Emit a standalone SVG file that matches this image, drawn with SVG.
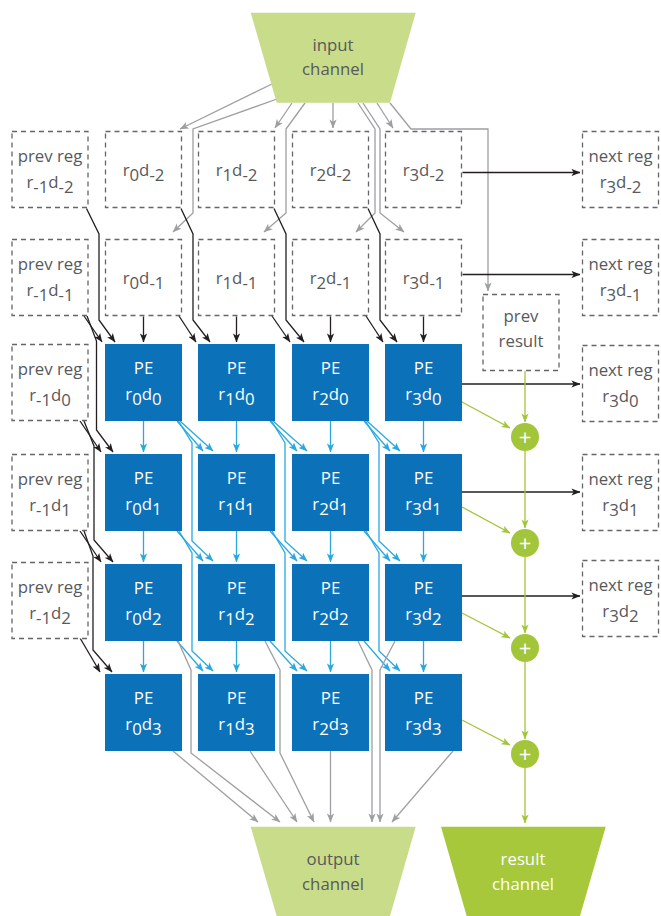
<svg xmlns="http://www.w3.org/2000/svg" width="661" height="916" viewBox="0 0 661 916">
<style>
.dash{fill:#fff;stroke:#666;stroke-width:1.3;stroke-dasharray:5 4}
.pe{fill:#0b71b8}
.t{font-family:"Open Sans","Liberation Sans",sans-serif;font-size:16.8px;fill:#58595b;text-anchor:middle}
.w{fill:#fff}
.k,.g,.b,.gr{fill:none;stroke-width:1.3}
.k{stroke:#231f20;marker-end:url(#ak)}
.g{stroke:#9d9fa2;marker-end:url(#ag)}
.b{stroke:#29a9e0;marker-end:url(#ab)}
.gr{stroke:#a3c53a;marker-end:url(#agr)}
.plus{font-family:"Open Sans","Liberation Sans",sans-serif;font-size:22px;fill:#fff;text-anchor:middle}
</style>
<defs>
<marker id="ak" viewBox="0 0 10 8" refX="9.5" refY="4" markerWidth="9" markerHeight="7.5" markerUnits="userSpaceOnUse" orient="auto"><path d="M0,0 L10,4 L0,8 L2.5,4 Z" fill="#231f20"/></marker>
<marker id="ag" viewBox="0 0 10 8" refX="9.5" refY="4" markerWidth="9" markerHeight="7.5" markerUnits="userSpaceOnUse" orient="auto"><path d="M0,0 L10,4 L0,8 L2.5,4 Z" fill="#9d9fa2"/></marker>
<marker id="ab" viewBox="0 0 10 8" refX="9.5" refY="4" markerWidth="9" markerHeight="7.5" markerUnits="userSpaceOnUse" orient="auto"><path d="M0,0 L10,4 L0,8 L2.5,4 Z" fill="#29a9e0"/></marker>
<marker id="agr" viewBox="0 0 10 8" refX="9.5" refY="4" markerWidth="9" markerHeight="7.5" markerUnits="userSpaceOnUse" orient="auto"><path d="M0,0 L10,4 L0,8 L2.5,4 Z" fill="#a3c53a"/></marker>
</defs>
<rect width="661" height="916" fill="#fff"/>

<g id="connectors">
<!-- input channel (gray) -->
<path class="g" d="M272,84 L180,129"/>
<path class="g" d="M277,99 L193,129 L193,213 L173,232"/>
<path class="g" d="M292,103 L275,128"/>
<path class="g" d="M305,103 L286,129 L286,213 L264,232"/>
<path class="g" d="M333,103 L333,128"/>
<path class="g" d="M358,103 L375,129 L375,213 L356,232"/>
<path class="g" d="M363,103 L380,129 L380,213 L404,232"/>
<path class="g" d="M377,103 L393,128"/>
<path class="g" d="M390,103 L411,129 L488,129 L488,291"/>
<!-- black: left column -->
<path class="k" d="M86.5,208.5 L99,234 L99,320 L115,342"/>
<path class="k" d="M84,316 L102,342"/>
<path class="k" d="M87,316 L96.5,341 L96.5,430 L113,452"/>
<path class="k" d="M80,421 L101,452"/>
<path class="k" d="M84,421 L94,446 L94,540 L113,562"/>
<path class="k" d="M80,531 L101,562"/>
<path class="k" d="M84,531 L93,556 L93,650 L112,672"/>
<path class="k" d="M80,638 L100,672"/>
<!-- black: register columns -->
<path class="k" d="M181,208.5 L193,234 L193,320 L210,342"/>
<path class="k" d="M179,316 L196,342"/>
<path class="k" d="M274,208.5 L286,234 L286,320 L304,342"/>
<path class="k" d="M272,316 L290,342"/>
<path class="k" d="M368,208.5 L380,234 L380,320 L397,342"/>
<path class="k" d="M366,316 L383,342"/>
<path class="k" d="M143.5,316.5 L143.5,342"/>
<path class="k" d="M236.5,316.5 L236.5,342"/>
<path class="k" d="M330.5,316.5 L330.5,342"/>
<path class="k" d="M423.5,316.5 L423.5,342"/>
<!-- black: to next reg -->
<path class="k" d="M462.5,172.5 L580,172.5"/>
<path class="k" d="M462.5,274.5 L580,274.5"/>
<path class="k" d="M462,384 L580,384"/>
<path class="k" d="M462,492 L580,492"/>
<path class="k" d="M462,596 L580,596"/>
<!-- blue verticals -->
<path class="b" d="M143.5,421 L143.5,452"/>
<path class="b" d="M143.5,531 L143.5,562"/>
<path class="b" d="M143.5,641 L143.5,672"/>
<path class="b" d="M236.5,421 L236.5,452"/>
<path class="b" d="M236.5,531 L236.5,562"/>
<path class="b" d="M236.5,641 L236.5,672"/>
<path class="b" d="M330.5,421 L330.5,452"/>
<path class="b" d="M330.5,531 L330.5,562"/>
<path class="b" d="M330.5,641 L330.5,672"/>
<path class="b" d="M423.5,421 L423.5,452"/>
<path class="b" d="M423.5,531 L423.5,562"/>
<path class="b" d="M423.5,641 L423.5,672"/>
<!-- blue diagonals col0 -> col1 -->
<path class="b" d="M177,421 L203,451"/>
<path class="b" d="M180,421 L213,451"/>
<path class="b" d="M178.5,421 L192,443 L192,541 L213,561"/>
<path class="b" d="M177,531 L203,561"/>
<path class="b" d="M179,531 L192,553 L192,651 L213,671"/>
<path class="b" d="M177,641 L203,671"/>
<!-- col1 -> col2 -->
<path class="b" d="M270,421 L297,451"/>
<path class="b" d="M273,421 L307,451"/>
<path class="b" d="M271.5,421 L285,443 L285,541 L307,561"/>
<path class="b" d="M270,531 L297,561"/>
<path class="b" d="M272,531 L285,553 L285,651 L307,671"/>
<path class="b" d="M270,641 L297,671"/>
<!-- col2 -> col3 -->
<path class="b" d="M364,421 L390,451"/>
<path class="b" d="M367,421 L400,451"/>
<path class="b" d="M365.5,421 L379,443 L379,541 L400,561"/>
<path class="b" d="M364,531 L390,561"/>
<path class="b" d="M366,531 L379,553 L379,651 L400,671"/>
<path class="b" d="M364,641 L390,671"/>
<!-- gray to output -->
<path class="g" d="M173,751 L258,822"/>
<path class="g" d="M178,641 L191,670 L191,753 L280,822"/>
<path class="g" d="M250,751 L297,822"/>
<path class="g" d="M265,641 L280,670 L280,753 L314,822"/>
<path class="g" d="M330.5,751 L330.5,822"/>
<path class="g" d="M358,641 L372,670 L372,822"/>
<path class="g" d="M395,641 L380,670 L380,822"/>
<path class="g" d="M453,751 L392,822"/>
<!-- green -->
<path class="gr" d="M525,371 L525,422"/>
<path class="gr" d="M525,451 L525,528"/>
<path class="gr" d="M525,557 L525,633"/>
<path class="gr" d="M525,662 L525,739"/>
<path class="gr" d="M525,768 L525,823"/>
<path class="gr" d="M462,402 L510,428"/>
<path class="gr" d="M462,507 L510,533"/>
<path class="gr" d="M462,613 L510,638"/>
<path class="gr" d="M462,720 L510,745"/>
</g>

<g id="input-channel"><path d="M250.7,12.7 L415.7,12.7 L390,102.7 L276.7,102.7 Z" fill="#c9dc89"/><text class="t" x="333" y="51">input</text><text class="t" x="333" y="75">channel</text></g>
<g id="output-channel"><path d="M250.7,826.7 L415.7,826.7 L390,916 L276.7,916 Z" fill="#c9dc89"/><text class="t" x="333" y="865">output</text><text class="t" x="333" y="890">channel</text></g>
<g id="result-channel"><path d="M441,826.7 L605.7,826.7 L580,916 L466.7,916 Z" fill="#a8c83b"/><text class="t w" x="523" y="865">result</text><text class="t w" x="523" y="890">channel</text></g>

<!-- prev reg column -->
<g id="prev-r-1d-2"><rect class="dash" x="12" y="131.5" width="76" height="76"/><text class="t" x="50" y="162">prev reg</text><text class="t" x="50" y="188">r<tspan dy="5">-1</tspan><tspan dy="-5">d</tspan><tspan dy="5">-2</tspan></text></g>
<g id="prev-r-1d-1"><rect class="dash" x="12" y="239.5" width="76" height="76"/><text class="t" x="50" y="270">prev reg</text><text class="t" x="50" y="296">r<tspan dy="5">-1</tspan><tspan dy="-5">d</tspan><tspan dy="5">-1</tspan></text></g>
<g id="prev-r-1d0"><rect class="dash" x="12" y="344.5" width="76" height="76"/><text class="t" x="50" y="375">prev reg</text><text class="t" x="50" y="401">r<tspan dy="5">-1</tspan><tspan dy="-5">d</tspan><tspan dy="5">0</tspan></text></g>
<g id="prev-r-1d1"><rect class="dash" x="12" y="454.5" width="76" height="76"/><text class="t" x="50" y="485">prev reg</text><text class="t" x="50" y="511">r<tspan dy="5">-1</tspan><tspan dy="-5">d</tspan><tspan dy="5">1</tspan></text></g>
<g id="prev-r-1d2"><rect class="dash" x="12" y="562.5" width="76" height="76"/><text class="t" x="50" y="593">prev reg</text><text class="t" x="50" y="619">r<tspan dy="5">-1</tspan><tspan dy="-5">d</tspan><tspan dy="5">2</tspan></text></g>

<!-- register rows -->
<g id="r0d-2"><rect class="dash" x="105.5" y="131.5" width="76" height="76"/><text class="t" x="143.5" y="176">r<tspan dy="5">0</tspan><tspan dy="-5">d</tspan><tspan dy="5">-2</tspan></text></g>
<g id="r1d-2"><rect class="dash" x="198.5" y="131.5" width="76" height="76"/><text class="t" x="236.5" y="176">r<tspan dy="5">1</tspan><tspan dy="-5">d</tspan><tspan dy="5">-2</tspan></text></g>
<g id="r2d-2"><rect class="dash" x="292.5" y="131.5" width="76" height="76"/><text class="t" x="330.5" y="176">r<tspan dy="5">2</tspan><tspan dy="-5">d</tspan><tspan dy="5">-2</tspan></text></g>
<g id="r3d-2"><rect class="dash" x="385.5" y="131.5" width="76" height="76"/><text class="t" x="423.5" y="176">r<tspan dy="5">3</tspan><tspan dy="-5">d</tspan><tspan dy="5">-2</tspan></text></g>
<g id="r0d-1"><rect class="dash" x="105.5" y="239.5" width="76" height="76"/><text class="t" x="143.5" y="284">r<tspan dy="5">0</tspan><tspan dy="-5">d</tspan><tspan dy="5">-1</tspan></text></g>
<g id="r1d-1"><rect class="dash" x="198.5" y="239.5" width="76" height="76"/><text class="t" x="236.5" y="284">r<tspan dy="5">1</tspan><tspan dy="-5">d</tspan><tspan dy="5">-1</tspan></text></g>
<g id="r2d-1"><rect class="dash" x="292.5" y="239.5" width="76" height="76"/><text class="t" x="330.5" y="284">r<tspan dy="5">2</tspan><tspan dy="-5">d</tspan><tspan dy="5">-1</tspan></text></g>
<g id="r3d-1"><rect class="dash" x="385.5" y="239.5" width="76" height="76"/><text class="t" x="423.5" y="284">r<tspan dy="5">3</tspan><tspan dy="-5">d</tspan><tspan dy="5">-1</tspan></text></g>

<!-- PEs -->
<g id="pe-r0d0"><rect class="pe" x="105" y="344" width="77" height="77"/><text class="t w" x="143.5" y="374">PE</text><text class="t w" x="143.5" y="400">r<tspan dy="5">0</tspan><tspan dy="-5">d</tspan><tspan dy="5">0</tspan></text></g>
<g id="pe-r1d0"><rect class="pe" x="198" y="344" width="77" height="77"/><text class="t w" x="236.5" y="374">PE</text><text class="t w" x="236.5" y="400">r<tspan dy="5">1</tspan><tspan dy="-5">d</tspan><tspan dy="5">0</tspan></text></g>
<g id="pe-r2d0"><rect class="pe" x="292" y="344" width="77" height="77"/><text class="t w" x="330.5" y="374">PE</text><text class="t w" x="330.5" y="400">r<tspan dy="5">2</tspan><tspan dy="-5">d</tspan><tspan dy="5">0</tspan></text></g>
<g id="pe-r3d0"><rect class="pe" x="385" y="344" width="77" height="77"/><text class="t w" x="423.5" y="374">PE</text><text class="t w" x="423.5" y="400">r<tspan dy="5">3</tspan><tspan dy="-5">d</tspan><tspan dy="5">0</tspan></text></g>
<g id="pe-r0d1"><rect class="pe" x="105" y="454" width="77" height="77"/><text class="t w" x="143.5" y="484">PE</text><text class="t w" x="143.5" y="510">r<tspan dy="5">0</tspan><tspan dy="-5">d</tspan><tspan dy="5">1</tspan></text></g>
<g id="pe-r1d1"><rect class="pe" x="198" y="454" width="77" height="77"/><text class="t w" x="236.5" y="484">PE</text><text class="t w" x="236.5" y="510">r<tspan dy="5">1</tspan><tspan dy="-5">d</tspan><tspan dy="5">1</tspan></text></g>
<g id="pe-r2d1"><rect class="pe" x="292" y="454" width="77" height="77"/><text class="t w" x="330.5" y="484">PE</text><text class="t w" x="330.5" y="510">r<tspan dy="5">2</tspan><tspan dy="-5">d</tspan><tspan dy="5">1</tspan></text></g>
<g id="pe-r3d1"><rect class="pe" x="385" y="454" width="77" height="77"/><text class="t w" x="423.5" y="484">PE</text><text class="t w" x="423.5" y="510">r<tspan dy="5">3</tspan><tspan dy="-5">d</tspan><tspan dy="5">1</tspan></text></g>
<g id="pe-r0d2"><rect class="pe" x="105" y="564" width="77" height="77"/><text class="t w" x="143.5" y="594">PE</text><text class="t w" x="143.5" y="620">r<tspan dy="5">0</tspan><tspan dy="-5">d</tspan><tspan dy="5">2</tspan></text></g>
<g id="pe-r1d2"><rect class="pe" x="198" y="564" width="77" height="77"/><text class="t w" x="236.5" y="594">PE</text><text class="t w" x="236.5" y="620">r<tspan dy="5">1</tspan><tspan dy="-5">d</tspan><tspan dy="5">2</tspan></text></g>
<g id="pe-r2d2"><rect class="pe" x="292" y="564" width="77" height="77"/><text class="t w" x="330.5" y="594">PE</text><text class="t w" x="330.5" y="620">r<tspan dy="5">2</tspan><tspan dy="-5">d</tspan><tspan dy="5">2</tspan></text></g>
<g id="pe-r3d2"><rect class="pe" x="385" y="564" width="77" height="77"/><text class="t w" x="423.5" y="594">PE</text><text class="t w" x="423.5" y="620">r<tspan dy="5">3</tspan><tspan dy="-5">d</tspan><tspan dy="5">2</tspan></text></g>
<g id="pe-r0d3"><rect class="pe" x="105" y="674" width="77" height="77"/><text class="t w" x="143.5" y="704">PE</text><text class="t w" x="143.5" y="730">r<tspan dy="5">0</tspan><tspan dy="-5">d</tspan><tspan dy="5">3</tspan></text></g>
<g id="pe-r1d3"><rect class="pe" x="198" y="674" width="77" height="77"/><text class="t w" x="236.5" y="704">PE</text><text class="t w" x="236.5" y="730">r<tspan dy="5">1</tspan><tspan dy="-5">d</tspan><tspan dy="5">3</tspan></text></g>
<g id="pe-r2d3"><rect class="pe" x="292" y="674" width="77" height="77"/><text class="t w" x="330.5" y="704">PE</text><text class="t w" x="330.5" y="730">r<tspan dy="5">2</tspan><tspan dy="-5">d</tspan><tspan dy="5">3</tspan></text></g>
<g id="pe-r3d3"><rect class="pe" x="385" y="674" width="77" height="77"/><text class="t w" x="423.5" y="704">PE</text><text class="t w" x="423.5" y="730">r<tspan dy="5">3</tspan><tspan dy="-5">d</tspan><tspan dy="5">3</tspan></text></g>

<!-- prev result -->
<g id="prev-result"><rect class="dash" x="483" y="294.5" width="76" height="76"/><text class="t" x="521" y="322">prev</text><text class="t" x="521" y="347">result</text></g>

<!-- next reg column -->
<g id="next-r3d-2"><rect class="dash" x="582.5" y="131.5" width="76" height="76"/><text class="t" x="620.5" y="162">next reg</text><text class="t" x="620.5" y="188">r<tspan dy="5">3</tspan><tspan dy="-5">d</tspan><tspan dy="5">-2</tspan></text></g>
<g id="next-r3d-1"><rect class="dash" x="582.5" y="239.5" width="76" height="76"/><text class="t" x="620.5" y="270">next reg</text><text class="t" x="620.5" y="296">r<tspan dy="5">3</tspan><tspan dy="-5">d</tspan><tspan dy="5">-1</tspan></text></g>
<g id="next-r3d0"><rect class="dash" x="582.5" y="345.5" width="76" height="76"/><text class="t" x="620.5" y="376">next reg</text><text class="t" x="620.5" y="402">r<tspan dy="5">3</tspan><tspan dy="-5">d</tspan><tspan dy="5">0</tspan></text></g>
<g id="next-r3d1"><rect class="dash" x="582.5" y="454.5" width="76" height="76"/><text class="t" x="620.5" y="485">next reg</text><text class="t" x="620.5" y="511">r<tspan dy="5">3</tspan><tspan dy="-5">d</tspan><tspan dy="5">1</tspan></text></g>
<g id="next-r3d2"><rect class="dash" x="582.5" y="560.5" width="76" height="76"/><text class="t" x="620.5" y="591">next reg</text><text class="t" x="620.5" y="617">r<tspan dy="5">3</tspan><tspan dy="-5">d</tspan><tspan dy="5">2</tspan></text></g>

<!-- adders -->
<g id="add0"><circle cx="525" cy="437" r="14" fill="#a3c53a"/><text class="plus" x="525" y="445">+</text></g>
<g id="add1"><circle cx="525" cy="543" r="14" fill="#a3c53a"/><text class="plus" x="525" y="551">+</text></g>
<g id="add2"><circle cx="525" cy="648" r="14" fill="#a3c53a"/><text class="plus" x="525" y="656">+</text></g>
<g id="add3"><circle cx="525" cy="754" r="14" fill="#a3c53a"/><text class="plus" x="525" y="762">+</text></g>
</svg>
